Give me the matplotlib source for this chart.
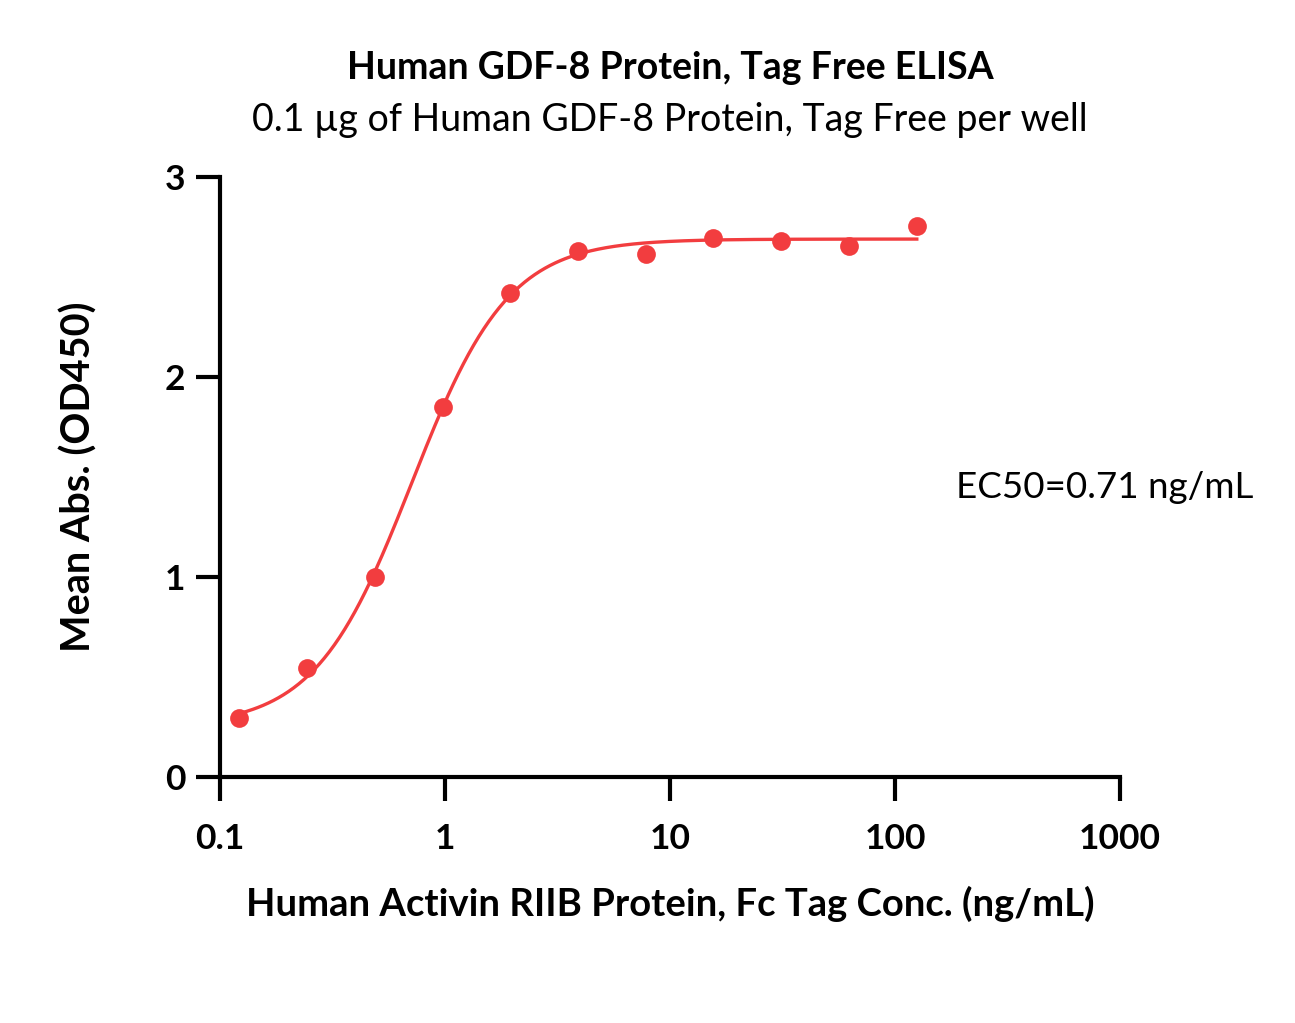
import numpy as np
import matplotlib
matplotlib.use("Agg")
import matplotlib.pyplot as plt

plt.rcParams['font.family'] = ['Lato', 'DejaVu Sans']

conc = [0.122, 0.244, 0.488, 0.977, 1.95, 3.9, 7.8, 15.6, 31.25, 62.5, 125.0]
od450 = [0.295, 0.545, 1.0, 1.85, 2.42, 2.63, 2.615, 2.695, 2.68, 2.655, 2.755]
xticks = [0.1, 1, 10, 100, 1000]
xtick_labels = ["0.1", "1", "10", "100", "1000"]
yticks = [0, 1, 2, 3]
title = "Human GDF-8 Protein, Tag Free ELISA"
subtitle = "0.1 \u00b5g of Human GDF-8 Protein, Tag Free per well"
xlabel = "Human Activin RIIB Protein, Fc Tag Conc. (ng/mL)"
ylabel = "Mean Abs. (OD450)"
ec50_text = "EC50=0.71 ng/mL"
red = "#F23D3F"

# 4PL fit of the data (grid search on hill & EC50, linear solve on bottom/top)
x = np.array(conc)
y = np.array(od450)
best = None
for h in np.linspace(0.8, 3.5, 271):
    for lc in np.linspace(np.log10(0.3), np.log10(2.0), 201):
        f = 1.0 / (1.0 + (10**lc / x) ** h)
        A = np.column_stack([1 - f, f])
        coef, *_ = np.linalg.lstsq(A, y, rcond=None)
        r = np.sum((A @ coef - y) ** 2)
        if best is None or r < best[0]:
            best = (r, h, lc, coef)
_, h, lc, (bot, top) = best
xs = np.logspace(np.log10(conc[0]), np.log10(conc[-1]), 400)
ys = bot + (top - bot) / (1.0 + (10**lc / xs) ** h)

fig = plt.figure(figsize=(12.95, 10.23), dpi=100)
ax = fig.add_axes([220/1295, 1-777/1023, 900/1295, 600/1023])
ax.plot(xs, ys, color=red, lw=2.4, zorder=2)
ax.plot(conc, od450, 'o', color=red, ms=13.5, mec='none', zorder=3, clip_on=False)

ax.set_xscale('log')
ax.set_xlim(0.1, 1000)
ax.set_ylim(0, 3)
ax.set_xticks(xticks)
ax.set_xticklabels(xtick_labels)
ax.xaxis.set_minor_locator(matplotlib.ticker.NullLocator())
ax.set_yticks(yticks)
for s in ['top', 'right']:
    ax.spines[s].set_visible(False)
for s in ['left', 'bottom']:
    ax.spines[s].set_linewidth(3)
ax.tick_params(axis='both', which='major', length=17, width=3, labelsize=25.5)
ax.tick_params(axis='x', pad=16)
ax.tick_params(axis='y', pad=8)
for lab in ax.get_xticklabels() + ax.get_yticklabels():
    lab.set_fontweight('bold')

ax.set_xlabel(xlabel, fontsize=27.5, fontweight='bold', labelpad=22)
ax.set_ylabel(ylabel, fontsize=28.5, fontweight='bold', labelpad=48)

fig.text(670/1295, 1-68/1023, title, ha='center', va='center', fontsize=27, fontweight='bold')
fig.text(670/1295, 1-120/1023, subtitle, ha='center', va='center', fontsize=27)
ax.text(0.818, 0.483, ec50_text, transform=ax.transAxes, ha='left', va='center', fontsize=26.5)

fig.savefig("out.png", dpi=100)
